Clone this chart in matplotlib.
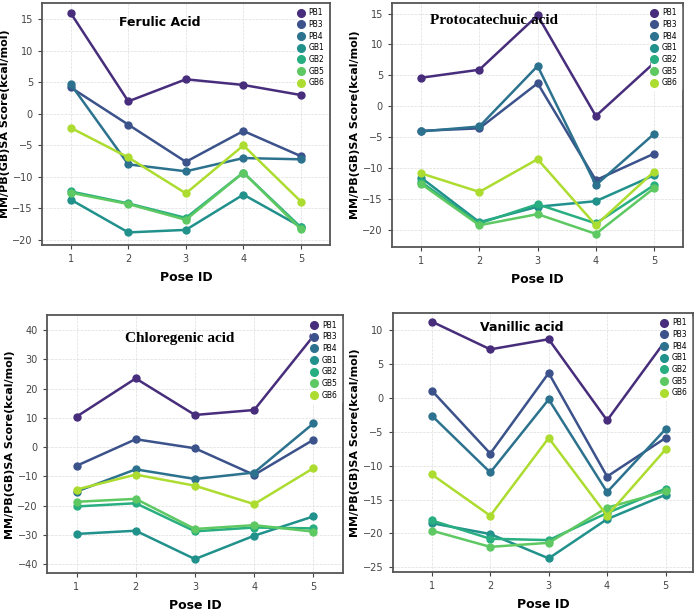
import matplotlib.pyplot as plt
import seaborn as sns

poses = [1, 2, 3, 4, 5]
series = ["PB1", "PB3", "PB4", "GB1", "GB2", "GB5", "GB6"]

# MM/PB(GB)SA scores, one list per series (poses 1-5)
ferulic = [
    [16.0, 2.0, 5.5, 4.6, 3.0],
    [4.2, -1.7, -7.6, -2.7, -6.7],
    [4.7, -8.0, -9.1, -7.0, -7.2],
    [-13.6, -18.8, -18.4, -12.8, -17.9],
    [-12.3, -14.2, -16.5, -9.3, -18.0],
    [-12.5, -14.3, -16.8, -9.3, -18.3],
    [-2.2, -6.9, -12.6, -5.0, -13.9],
]
protocatechuic = [
    [4.6, 5.9, 14.7, -1.6, 7.0],
    [-4.0, -3.6, 3.7, -12.0, -7.7],
    [-4.1, -3.3, 6.5, -12.8, -4.5],
    [-11.6, -18.8, -16.3, -15.4, -11.2],
    [-12.3, -19.0, -15.9, -19.0, -12.8],
    [-12.6, -19.3, -17.5, -20.7, -13.3],
    [-10.9, -13.9, -8.6, -19.3, -10.6],
]
chlorogenic = [
    [10.4, 23.5, 11.0, 12.7, 38.0],
    [-6.4, 2.7, -0.4, -9.5, 2.5],
    [-15.2, -7.6, -10.9, -8.7, 8.1],
    [-29.7, -28.6, -38.3, -30.3, -23.7],
    [-20.3, -19.2, -28.8, -27.5, -27.8],
    [-18.7, -17.7, -28.0, -26.7, -28.9],
    [-14.5, -9.4, -13.2, -19.5, -7.2],
]
vanillic = [
    [11.3, 7.2, 8.7, -3.3, 8.5],
    [1.1, -8.2, 3.7, -11.6, -5.9],
    [-2.6, -11.0, -0.2, -13.9, -4.6],
    [-18.5, -20.1, -23.7, -17.9, -14.3],
    [-18.1, -20.8, -21.0, -17.0, -13.4],
    [-19.6, -22.0, -21.4, -16.2, -13.8],
    [-11.3, -17.4, -5.9, -17.4, -7.6],
]

colors = sns.color_palette("viridis", len(series))

fig = plt.figure(figsize=(7, 6.11), dpi=100)

panels = [
    # data, title, title font, title size, title xy (axes frac), rect, ylim, xlim, yticks
    (ferulic, "Ferulic Acid", "DejaVu Sans", 9, (0.41, 0.92),
     [0.060, 0.599, 0.411, 0.396], (-20.8, 17.6), (0.5, 5.5), range(-20, 16, 5)),
    (protocatechuic, "Protocatechuic acid", "Liberation Serif", 11, (0.35, 0.93),
     [0.560, 0.596, 0.416, 0.399], (-22.8, 16.7), (0.5, 5.5), range(-20, 16, 5)),
    (chlorogenic, "Chloregenic acid", "Liberation Serif", 11, (0.45, 0.91),
     [0.067, 0.062, 0.423, 0.422], (-43.1, 45.1), (0.5, 5.5), range(-40, 41, 10)),
    (vanillic, "Vanillic acid", "DejaVu Sans", 9, (0.43, 0.945),
     [0.561, 0.064, 0.429, 0.424], (-25.7, 12.6), (0.33, 5.47), range(-25, 11, 5)),
]

for data, title, tfont, tsize, txy, rect, ylim, xlim, yticks in panels:
    ax = fig.add_axes(rect)
    for name, vals, c in zip(series, data, colors):
        ax.plot(poses, vals, color=c, lw=1.8, marker="o", ms=5, label=name)
    ax.set_xlim(*xlim)
    ax.set_ylim(*ylim)
    ax.set_xticks(poses)
    ax.set_yticks(list(yticks))
    ax.tick_params(labelsize=7, colors="#444444", length=3)
    ax.grid(True, ls="--", lw=0.5, color="#dddddd")
    ax.set_axisbelow(True)
    for s in ax.spines.values():
        s.set_color("#555555")
        s.set_linewidth(1.3)
    ax.set_xlabel("Pose ID", fontsize=9, fontweight="bold", labelpad=5)
    ax.set_ylabel("MM/PB(GB)SA Score(kcal/mol)", fontsize=8, fontweight="bold",
                  labelpad=2)
    ax.text(txy[0], txy[1], title, transform=ax.transAxes, ha="center",
            va="center", fontsize=tsize, fontweight="bold", family=tfont)
    leg = ax.legend(loc="upper right", fontsize=5.5, frameon=True,
                    handlelength=0, handletextpad=1.0, markerscale=1.1,
                    labelspacing=0.35, borderaxespad=0.3)
    leg.get_frame().set_facecolor("white")
    leg.get_frame().set_edgecolor("white")
    leg.get_frame().set_alpha(1)

fig.savefig("out.png", dpi=100)
